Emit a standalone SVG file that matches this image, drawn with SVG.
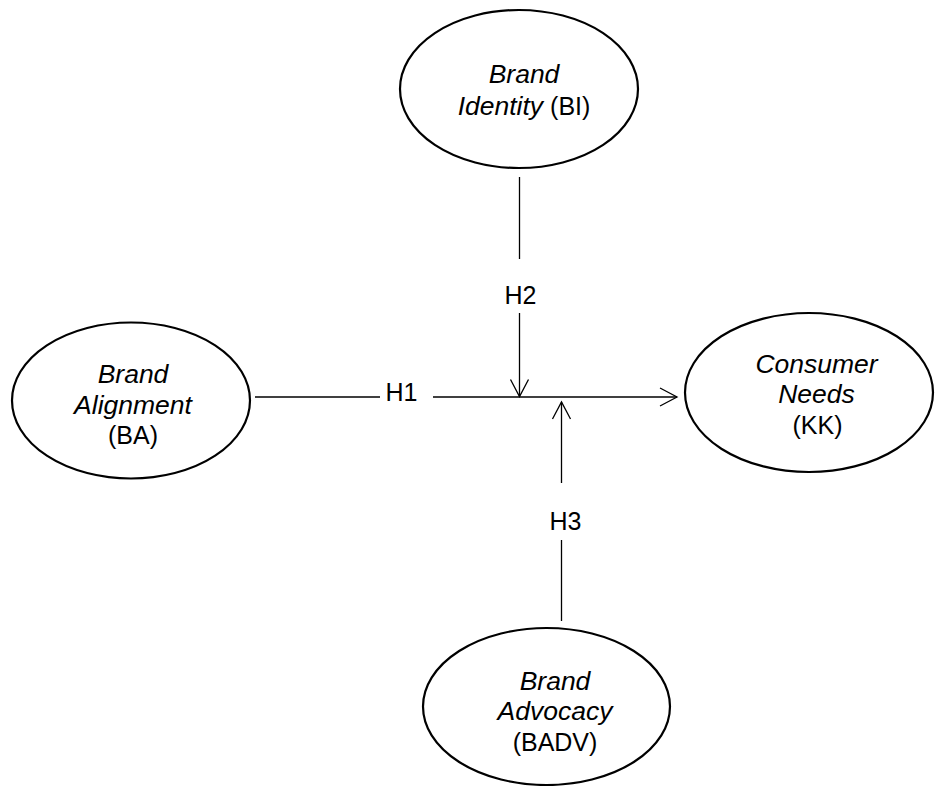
<svg xmlns="http://www.w3.org/2000/svg" width="935" height="786" viewBox="0 0 935 786">
<style>
.node ellipse{fill:#fff;stroke:#000;stroke-width:2.2}
.t{font-family:"Liberation Sans",Arial,sans-serif;font-size:25px;fill:#000;text-anchor:middle}
.i{font-style:italic;font-size:26.5px}
.edge{stroke:#000;stroke-width:1.3;fill:none}
</style>
<defs>
<marker id="arr" viewBox="-19 -11 22 22" refX="0" refY="0" markerWidth="22" markerHeight="22" markerUnits="userSpaceOnUse" orient="auto">
<path d="M-17,-9 L0,0 L-17,9" fill="none" stroke="#000" stroke-width="1.3"/>
</marker>
</defs>
<rect width="935" height="786" fill="#fff"/>
<g id="connectors">
<line class="edge" x1="255" y1="397" x2="380" y2="397"/>
<line class="edge" x1="433" y1="397" x2="677" y2="397" marker-end="url(#arr)"/>
<line class="edge" x1="519.5" y1="177" x2="519.5" y2="259"/>
<line class="edge" x1="519.5" y1="313" x2="519.5" y2="396.5" marker-end="url(#arr)"/>
<line class="edge" x1="561.5" y1="621" x2="561.5" y2="540"/>
<line class="edge" x1="561.5" y1="483" x2="561.5" y2="402" marker-end="url(#arr)"/>
<text class="t" x="401.5" y="401">H1</text>
<text class="t" x="520.5" y="303.5">H2</text>
<text class="t" x="565.5" y="530">H3</text>
</g>
<g id="BI" class="node">
<ellipse cx="519" cy="89" rx="119" ry="79"/>
<text class="t" x="524" y="83"><tspan class="i">Brand</tspan></text>
<text class="t" x="524" y="115"><tspan class="i">Identity</tspan> (BI)</text>
</g>
<g id="BA" class="node">
<ellipse cx="131" cy="400.5" rx="119" ry="78"/>
<text class="t i" x="133" y="383">Brand</text>
<text class="t i" x="133" y="413.5">Alignment</text>
<text class="t" x="133" y="444">(BA)</text>
</g>
<g id="KK" class="node">
<ellipse cx="809" cy="392.5" rx="124" ry="79.5"/>
<text class="t i" x="816.5" y="373">Consumer</text>
<text class="t i" x="816.5" y="403">Needs</text>
<text class="t" x="817.5" y="434">(KK)</text>
</g>
<g id="BADV" class="node">
<ellipse cx="546.5" cy="706.5" rx="123.5" ry="78.5"/>
<text class="t i" x="555" y="689.5">Brand</text>
<text class="t i" x="555" y="720">Advocacy</text>
<text class="t" x="555" y="750.5">(BADV)</text>
</g>
</svg>
